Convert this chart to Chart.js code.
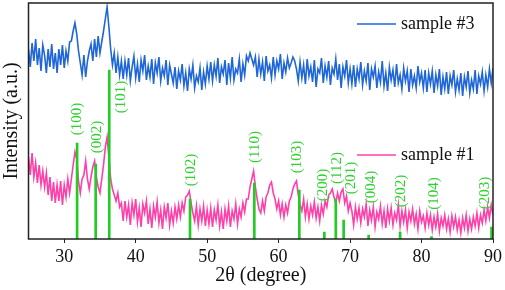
<!DOCTYPE html>
<html>
<head>
<meta charset="utf-8">
<script src="https://cdn.jsdelivr.net/npm/chart.js@4"></script>
<style>
  body { margin: 0; background: #fff; }
  #wrap { width: 505px; height: 290px; }
</style>
</head>
<body>
<div id="wrap"><canvas id="chart"></canvas></div>
<script>
// 2θ grid, 25..90 every 0.25 degree
const twoTheta = [];
for (let i = 0; i <= 260; i++) twoTheta.push(25 + i * 0.25);

// sample #3 (arbitrary units)
const sample3 = [
  190,172,196,178,200,174,191,168,194,          // 25 - 27
  184,166,190,172,195,170,186,166,              // 27.25 - 29
  190,174,194,171,188,178,197,                  // 29.25 - 30.75
  198,208,216,205,188,                          // 31 - 32
  176,164,184,162,178,188,                      // 32.25 - 33.5
  195,178,200,182,203,186,                      // 33.75 - 35
  197,208,220,232,212,190,                      // 35.25 - 36.5
  174,186,166,182,164,178,                      // 36.75 - 38
  160,178,164,181,158,172,183,161,175,157,179,168,184,159,173,162,180,155,176,166,182,158,171,163,179,154,174,165,
  156,172,150,168,159,175,153,166,148,170,160,174,151,163,157,171,149,167,155,173,
  160,177,158,174,163,181,156,172,165,179,154,176,161,182,159,170,166,180,157,175,164,183,
  178,186,180,174,182,                          // 55.75 - 56.75
  162,180,165,177,158,183,168,174,161,182,164,178,170,185,160,176,167,181,171,
  176,182,178,170,                              // 61.75 - 62.5
  158,177,161,174,155,180,163,172,157,179,152,170,166,181,156,173,162,178,154,171,165,180,159,175,151,172,163,179,156,170,
  155,174,152,170,160,177,154,168,158,176,149,170,162,173,151,167,157,178,153,166,148,172,159,169,152,175,156,164,150,171,158,168,147,170,154,163,151,173,157,166,
  151,169,147,166,155,168,146,164,153,170,144,162,150,167,145,163,154,169,147,160,149,166,143,162,152,168,146,159,150,169,145,163,155,167,148,164,152,170,156,171
];

// sample #1
const sample1 = [
  82,64,86,62,76,56,74,54,68,
  52,66,44,62,38,57,36,54,
  38,58,34,54,42,60,46,
  60,74,87,80,58,
  46,60,64,78,60,50,
  62,72,78,62,52,46,
  60,74,92,102,82,60,
  50,44,38,46,32,36,
  18,38,22,34,14,36,24,40,17,31,12,35,26,38,15,30,11,33,22,37,16,29,10,32,21,36,14,28,
  16,32,20,34,22,36,28,42,44,48,36,26,18,33,14,30,18,33,13,29,
  15,31,12,29,19,34,13,27,10,30,18,33,12,28,20,35,15,30,22,36,27,40,
  40,52,60,68,52,
  40,30,26,38,28,42,46,54,57,46,40,30,38,24,35,22,34,26,38,
  42,50,55,58,
  44,34,28,40,22,35,20,33,24,37,21,32,18,34,25,38,32,44,46,50,42,36,46,38,47,50,36,43,28,36,
  28,14,32,20,31,16,30,22,35,13,29,19,32,12,27,20,33,15,28,11,30,18,31,14,26,19,34,13,28,17,29,11,27,18,30,15,25,10,28,17,
  23,11,26,14,24,9,22,12,25,8,21,13,24,10,20,7,23,12,22,9,19,6,21,11,24,8,20,10,22,13,26,11,24,16,29,18,32,21,34,24
];

// reference pattern sticks
const peakPos = [31.8, 34.4, 36.3, 47.6, 56.6, 62.9, 66.4, 68.0, 69.1, 72.6, 77.0, 81.4, 89.8];
const peakH = [96, 75, 169, 40, 56, 49, 7, 40, 19, 4, 7, 2.5, 12];
const peakLabels = ['(100)', '(002)', '(101)', '(102)', '(110)', '(103)', '(200)', '(112)', '(201)', '(004)', '(202)', '(104)', '(203)'];

const xTicks = [30, 40, 50, 60, 70, 80, 90];

// label placement, px relative to top of each stick
const labelNudge = [[0,-24],[1,-27],[12,27],[1,-29],[1,-36],[-2,-33],[-1,-47],[1,-31],[7,-42],[2,-48],[1,-41],[3,-43],[-7,-34]];
const legendY = { 'sample #3': 24, 'sample #1': 155 };
const serif = '"Liberation Serif", serif';

const pts = (ys) => twoTheta.map((x, i) => ({ x: x, y: ys[i] }));

const frame = {
  id: 'frame',
  afterDatasetsDraw(c) {
    const a = c.chartArea, ctx = c.ctx;
    ctx.save();
    ctx.strokeStyle = '#222';
    ctx.lineWidth = 1.5;
    ctx.strokeRect(a.left, a.top, a.right - a.left, a.bottom - a.top);
    ctx.restore();
  }
};

const peakText = {
  id: 'peakText',
  afterDatasetsDraw(c) {
    const ctx = c.ctx, xs = c.scales.x, ys = c.scales.y;
    ctx.save();
    ctx.fillStyle = '#2fd12f';
    ctx.font = '15px ' + serif;
    ctx.textAlign = 'center';
    ctx.textBaseline = 'middle';
    peakPos.forEach((p, i) => {
      const x = xs.getPixelForValue(p) + labelNudge[i][0];
      const y = ys.getPixelForValue(peakH[i]) + labelNudge[i][1];
      ctx.save();
      ctx.translate(x, y);
      ctx.rotate(-Math.PI / 2);
      ctx.fillText(peakLabels[i], 0, 0);
      ctx.restore();
    });
    ctx.restore();
  }
};

const legendBits = {
  id: 'legendBits',
  afterDatasetsDraw(c) {
    const ctx = c.ctx;
    ctx.save();
    ctx.font = '18px ' + serif;
    ctx.textBaseline = 'middle';
    ctx.fillStyle = '#111';
    c.data.datasets.forEach(ds => {
      const y = legendY[ds.label];
      if (y === undefined) return;
      ctx.strokeStyle = ds.borderColor;
      ctx.lineWidth = 1.5;
      ctx.beginPath();
      ctx.moveTo(357, y);
      ctx.lineTo(396, y);
      ctx.stroke();
      ctx.fillText(ds.label, 401, y);
    });
    ctx.restore();
  }
};

new Chart(document.getElementById('chart'), {
  type: 'line',
  data: {
    datasets: [
      {
        type: 'bar',
        label: 'reference',
        data: peakPos.map((p, i) => ({ x: p, y: peakH[i] })),
        backgroundColor: '#22cc22',
        barThickness: 2,
        order: 0
      },
      {
        label: 'sample #1',
        data: pts(sample1),
        borderColor: '#ff40a8',
        borderWidth: 1.6,
        pointRadius: 0,
        tension: 0,
        order: 1
      },
      {
        label: 'sample #3',
        data: pts(sample3),
        borderColor: '#1f66d6',
        borderWidth: 1.6,
        pointRadius: 0,
        tension: 0,
        order: 2
      }
    ]
  },
  options: {
    responsive: true,
    maintainAspectRatio: false,
    animation: false,
    layout: { padding: { top: 3, right: 11, left: 0, bottom: 0 } },
    plugins: { legend: { display: false }, tooltip: { enabled: false } },
    scales: {
      x: {
        type: 'linear',
        min: 25,
        max: 90,
        offset: false,
        afterBuildTicks: s => { s.ticks = xTicks.map(v => ({ value: v })); },
        afterFit: s => { s.height = 51; },
        grid: { drawOnChartArea: false, drawTicks: true, tickLength: 4, color: '#222', offset: false },
        border: { display: false },
        ticks: { color: '#111', padding: 3, maxRotation: 0, font: { family: serif, size: 18 } },
        title: { display: true, text: '2θ (degree)', color: '#111', padding: 2, font: { family: serif, size: 20 } }
      },
      y: {
        min: 0,
        max: 236,
        afterFit: s => { s.width = 28.5; },
        grid: { display: false },
        border: { display: false },
        ticks: { display: false },
        title: { display: true, text: 'Intensity (a.u.)', color: '#111', padding: 0, font: { family: serif, size: 20 } }
      }
    }
  },
  plugins: [frame, peakText, legendBits]
});
</script>
</body>
</html>
